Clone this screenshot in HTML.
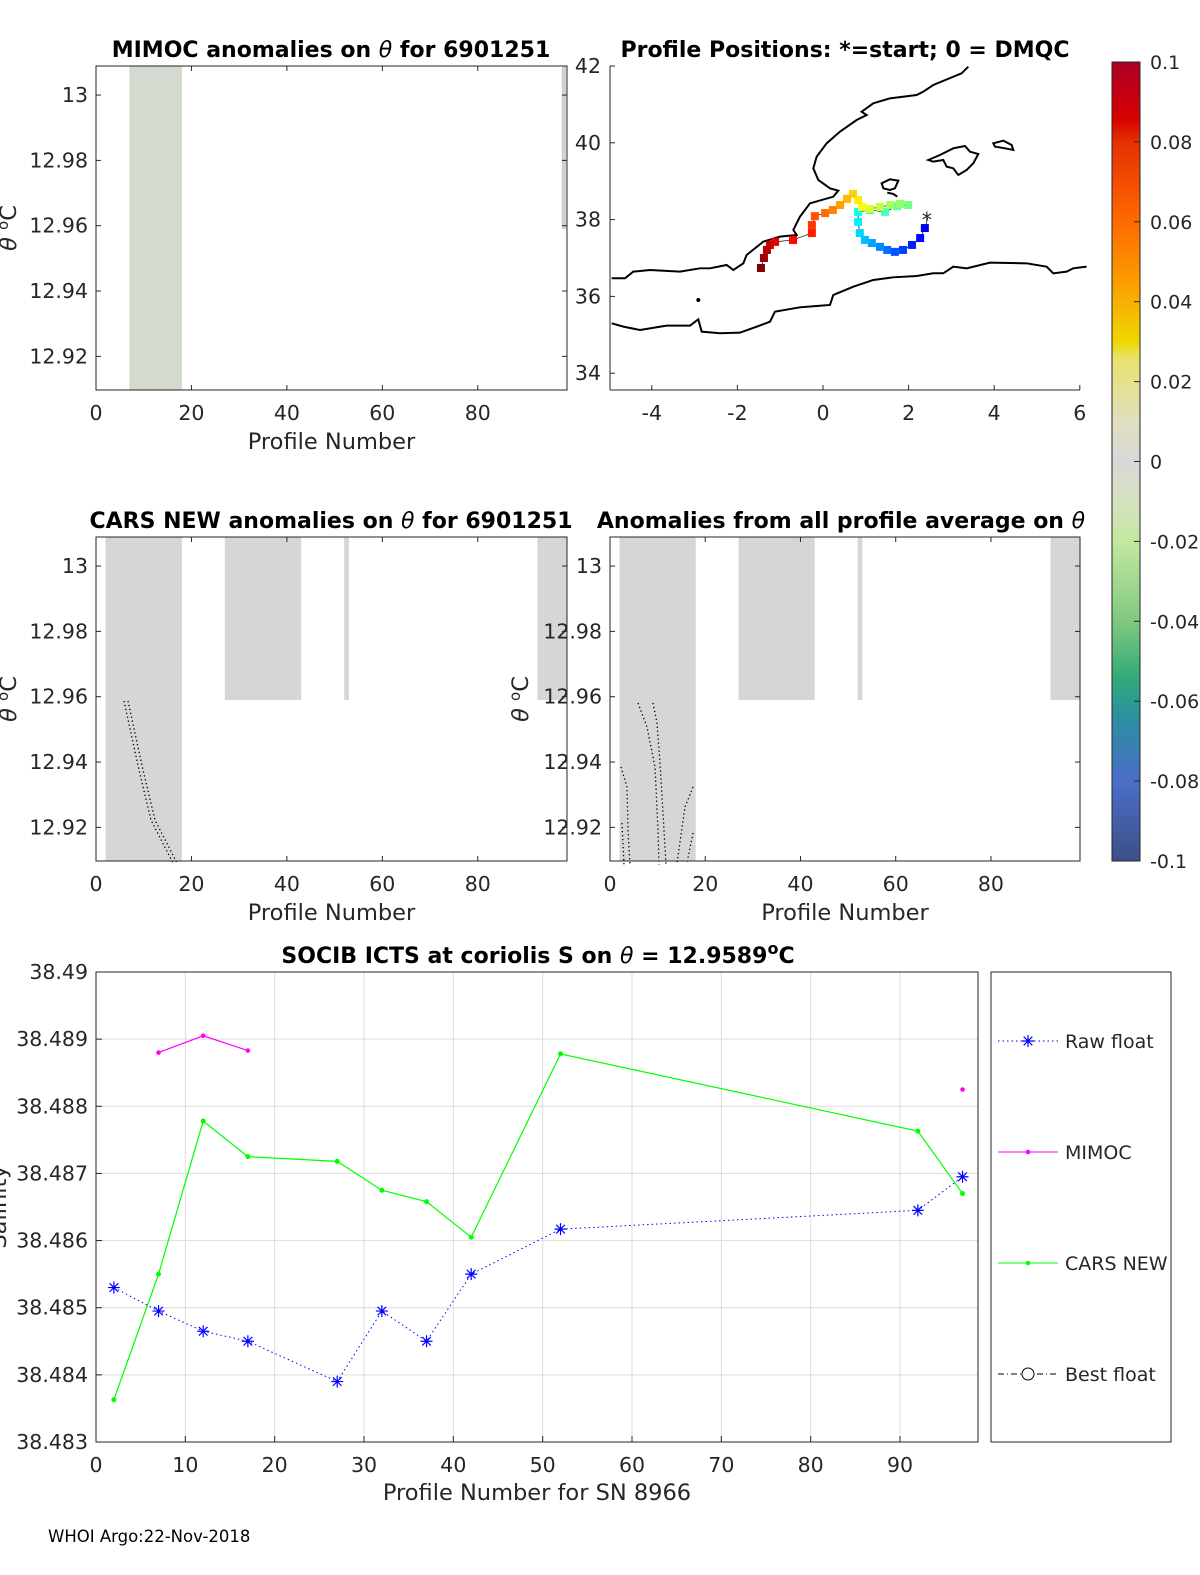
<!DOCTYPE html>
<html><head><meta charset="utf-8"><style>
html,body{margin:0;padding:0;background:#fff;}
svg{display:block;font-family:"DejaVu Sans","Liberation Sans",sans-serif;}
.t{font-weight:bold;font-size:22px;fill:#000;text-anchor:middle;}
.tk{font-size:20.5px;fill:#262626;}
.lg{font-size:19px;fill:#262626;}
.al{font-size:22.5px;fill:#262626;text-anchor:middle;}
</style></head><body>
<svg id="fig" width="1200" height="1575" viewBox="0 0 1200 1575" xmlns="http://www.w3.org/2000/svg"></svg>
<script>
// ---- bottom chart data ----
const profiles = [2,7,12,17,27,32,37,42,52,92,97];
const rawFloat = [38.4853,38.48495,38.48465,38.4845,38.4839,38.48495,38.4845,38.4855,38.48617,38.48645,38.48695];
const carsNew = [38.48363,38.4855,38.48778,38.48725,38.48718,38.48675,38.48658,38.48605,38.48878,38.48763,38.4867];
const mimocProfiles = [7,12,17];
const mimocVals = [38.4888,38.48905,38.48883];
const mimocExtraProfile = [97];
const mimocExtraVal = [38.48825];
const bottomXTicks = [0,10,20,30,40,50,60,70,80,90];
const bottomYTicks = [38.483,38.484,38.485,38.486,38.487,38.488,38.489,38.49];
// ---- anomaly panel data ----
const thetaTicks = [12.92,12.94,12.96,12.98,13];
const profTicks = [0,20,40,60,80];
// ---- map data ----
const trackLon = [2.45,2.38,2.27,2.08,1.87,1.68,1.50,1.33,1.14,0.98,0.86,0.82,0.82,1.10,1.45,1.73,1.99,1.80,1.57,1.33,1.10,0.91,0.82,0.70,0.56,0.40,0.23,0.05,-0.19,-0.26,-0.26,-0.70,-1.12,-1.24,-1.31,-1.38,-1.45];
const trackLat = [38.04,37.78,37.52,37.34,37.21,37.16,37.21,37.29,37.39,37.47,37.65,37.94,38.20,38.25,38.20,38.35,38.38,38.41,38.38,38.33,38.28,38.33,38.51,38.67,38.54,38.38,38.25,38.17,38.09,37.86,37.65,37.47,37.42,37.34,37.21,37.00,36.74];
const lonTicks = [-4,-2,0,2,4,6];
const latTicks = [34,36,38,40,42];
const cbTicks = [-0.1,-0.08,-0.06,-0.04,-0.02,0,0.02,0.04,0.06,0.08,0.1];
const cbLabels = ['-0.1','-0.08','-0.06','-0.04','-0.02','0','0.02','0.04','0.06','0.08','0.1'];

const svg = document.getElementById('fig');
const NS = 'http://www.w3.org/2000/svg';
function mk(tag, attrs, parent){const e=document.createElementNS(NS,tag);for(const k in attrs)e.setAttribute(k,attrs[k]);(parent||svg).appendChild(e);return e;}
function txt(s,x,y,cls,parent,anchor){const e=mk('text',{x:x,y:y,class:cls},parent);if(anchor)e.setAttribute('text-anchor',anchor);e.textContent=s;return e;}

function panel(name,x0,x1,y0,y1,title,patches,dots,ylab){
  const g=mk('g',{});
  
  
  const sx=v=>x0+(v-0)*(x1-x0)/98.7;
  const sy=v=>y1-(v-12.9097)*(y1-y0)/(13.0089-12.9097);
  patches.forEach(p=>{
    const h=(p[2]>=13.0)?(y1-y0):(sy(p[2])-y0);
    const r=mk('rect',{x:sx(p[0]),y:y0,width:sx(p[1])-sx(p[0]),height:h,fill:p[3]||'#d6d6d6'},g);
    
    
  });
  dots.forEach(d=>{const pl=mk('polyline',{points:d,fill:'none',stroke:'#000','stroke-width':1.3,'stroke-dasharray':'1.3 2.7'},g);
    
    });
  mk('rect',{x:x0,y:y0,width:x1-x0,height:y1-y0,fill:'none',stroke:'#262626','stroke-width':1},g);
  thetaTicks.forEach(t=>{const y=sy(t);mk('line',{x1:x0,x2:x0+5,y1:y,y2:y,stroke:'#262626'},g);mk('line',{x1:x1,x2:x1-5,y1:y,y2:y,stroke:'#262626'},g);
    txt(t===13?'13':t.toFixed(2),x0-8,y+7,'tk',g,'end');});
  profTicks.forEach(t=>{const x=sx(t);mk('line',{x1:x,x2:x,y1:y1,y2:y1-5,stroke:'#262626'},g);mk('line',{x1:x,x2:x,y1:y0,y2:y0+5,stroke:'#262626'},g);
    txt(String(t),x,y1+30,'tk',g,'middle');});
  txt('Profile Number',(x0+x1)/2,y1+59,'al',g);
  const yl=txt('',0,0,'al',g);yl.innerHTML='<tspan font-style="italic">θ</tspan> <tspan dy="-8" font-size="15">o</tspan><tspan dy="8">C</tspan>';
  yl.setAttribute('transform','translate('+ylab+','+((y0+y1)/2)+') rotate(-90)');
  txt('',title[1],y0-9,'t',g).innerHTML=title[0];
}
panel('mimoc-anomaly-panel',96,567,66,390,['MIMOC anomalies on <tspan font-style="italic" font-weight="normal">θ</tspan>  for 6901251',331],
  [[7,18,13.0089,'#d3dbd0'],[97.6,98.5,12.959,'#d0d0d0']],[],16);
panel('cars-anomaly-panel',96,567,537,861,['CARS NEW anomalies on <tspan font-style="italic" font-weight="normal">θ</tspan> for 6901251',331],
  [[2,18,13.0089],[27,43,12.959],[52,53,12.959],[92.5,98.7,12.959]],
  ['124,701 139,770 151,820 173,863','128,701 143,770 155,820 177,863'],16);
panel('all-profile-anomaly-panel',610,1080,537,861,['Anomalies from all profile average on <tspan font-style="italic" font-weight="normal">θ</tspan>',841],
  [[2,18,13.0089],[27,43,12.959],[52,53,12.959],[92.5,98.7,12.959]],
  ['638,703 647,727 655,767 658,830 659,865','653,703 657,723 660,763 663,813 666,865','621,767 627,787 628,830 630,865','622,823 624,865','693,787 685,807 677,863','693,833 687,863'],528);

// ---- map ----
(function(){
  const g=mk('g',{});
  
  
  const x0=610,x1=1080,y0=66,y1=390;
  const sx=v=>609+(v+5)*42.8;
  const sy=v=>66+(42-v)*38.4;
  const c=mk('g',{transform:'translate(600,60) scale(0.3333)',fill:'none',stroke:'#000','stroke-width':6},g);
  
  
  mk('polyline',{points:'1105,20 1085,40 1000,75 970,95 950,105 870,115 820,130 785,155 800,165 770,180 720,215 680,250 650,290 640,325 655,360 690,385 715,392 700,410 630,430 600,470 580,510 590,525 540,530 490,545 440,585 430,610 400,630 380,615 330,625 300,625 240,635 150,630 100,635 75,655 35,655'},c);
  mk('polyline',{points:'35,790 70,800 120,810 200,797 270,797 295,778 305,815 360,820 420,818 470,800 510,785 525,755 600,742 650,738 690,735 700,705 760,680 820,660 880,652 950,648 1000,640 1030,640 1060,620 1100,625 1170,608 1280,610 1340,620 1360,640 1400,635 1420,625 1460,620'},c);
  mk('polygon',{points:'985,300 1020,285 1060,265 1095,258 1110,275 1135,282 1120,310 1100,330 1075,345 1060,325 1040,320 1030,300 1000,305'},c);
  mk('polygon',{points:'1180,250 1210,242 1235,255 1240,270 1215,265 1185,260'},c);
  mk('polygon',{points:'845,370 870,358 895,362 885,385 870,390 850,385'},c);
  mk('polyline',{points:'862,398 880,402 892,410'},c);
  mk('circle',{cx:295,cy:720,r:3,fill:'#000'},c);
  mk('polyline',{points:trackLon.map((v,i)=>sx(v)+','+sy(trackLat[i])).join(' '),fill:'none',stroke:'#000','stroke-width':0.7},g);
  const n=trackLon.length;
  function jet(t){t=0.08+0.92*t;const r=Math.min(1,Math.max(0,1.5-Math.abs(4*t-3))),gg=Math.min(1,Math.max(0,1.5-Math.abs(4*t-2))),b=Math.min(1,Math.max(0,1.5-Math.abs(4*t-1)));return 'rgb('+Math.round(r*255)+','+Math.round(gg*255)+','+Math.round(b*255)+')';}
  trackLon.forEach((v,i)=>{if(i===0)return;const r=mk('rect',{x:sx(v)-4,y:sy(trackLat[i])-4,width:8,height:8,fill:jet(i/(n-1))},g);
    
    });
  txt('*',sx(trackLon[0])-1,sy(trackLat[0])+9,'tk',g,'middle').setAttribute('fill','#00008f');
  mk('line',{x1:x0,x2:x0,y1:y0,y2:y1,stroke:'#262626'},g);
  mk('line',{x1:x0,x2:x1,y1:y1,y2:y1,stroke:'#262626'},g);
  lonTicks.forEach(t=>{const x=sx(t);mk('line',{x1:x,x2:x,y1:y1,y2:y1-5,stroke:'#262626'},g);txt(String(t),x,y1+30,'tk',g,'middle');});
  latTicks.forEach(t=>{const y=sy(t);mk('line',{x1:x0,x2:x0+5,y1:y,y2:y,stroke:'#262626'},g);txt(String(t),x0-9,y+7,'tk',g,'end');});
  txt('Profile Positions: *=start; 0 = DMQC',845,57,'t',g);
})();

// ---- colorbar ----
(function(){
  const g=mk('g',{});
  
  
  const defs=mk('defs',{},g);
  const lg=mk('linearGradient',{id:'cbg',x1:0,y1:0,x2:0,y2:1},defs);
  [[0,'#ab0025'],[0.07,'#d60000'],[0.1,'#e63000'],[0.2,'#ff6a00'],[0.28,'#fba000'],[0.35,'#eed800'],[0.37,'#e8e26a'],[0.45,'#e0dfc0'],[0.5,'#d8d8d8'],[0.55,'#d6e2c0'],[0.6,'#c4e8a0'],[0.7,'#80c880'],[0.77,'#34aa78'],[0.82,'#2a90a0'],[0.9,'#4a6ec8'],[1,'#3c5088']].forEach(s=>mk('stop',{offset:s[0],'stop-color':s[1]},lg));
  const y0=62,y1=861;
  mk('rect',{x:1112,y:y0,width:28,height:y1-y0,fill:'url(#cbg)',stroke:'#262626'},g);
  cbTicks.forEach((t,i)=>{const y=y1-(t+0.1)/0.2*(y1-y0);
    if(i>0&&i<cbTicks.length-1)mk('line',{x1:1134,x2:1140,y1:y,y2:y,stroke:'#262626'},g);
    txt(cbLabels[i],1150,y+7,'lg',g,'start');});
})();

// ---- bottom chart ----
(function(){
  const g=mk('g',{});
  
  
  const x0=96,x1=978,y0=972,y1=1442;
  const sx=v=>x0+v*(900-96)/90;
  const sy=v=>y1-(v-38.483)*(y1-y0)/0.007;
  bottomXTicks.forEach(t=>{if(t>0)mk('line',{x1:sx(t),x2:sx(t),y1:y0,y2:y1,stroke:'#dcdcdc'},g);});
  bottomYTicks.forEach(t=>{mk('line',{x1:x0,x2:x1,y1:sy(t),y2:sy(t),stroke:'#dcdcdc'},g);});
  const cars=mk('polyline',{points:profiles.map((p,i)=>sx(p)+','+sy(carsNew[i])).join(' '),fill:'none',stroke:'#00ff00','stroke-width':1.2},g);
  
  
  profiles.forEach((p,i)=>mk('circle',{cx:sx(p),cy:sy(carsNew[i]),r:2.5,fill:'#00ff00'},g));
  const mim=mk('polyline',{points:mimocProfiles.map((p,i)=>sx(p)+','+sy(mimocVals[i])).join(' '),fill:'none',stroke:'#ff00ff','stroke-width':1.2},g);
  
  
  mimocProfiles.forEach((p,i)=>mk('circle',{cx:sx(p),cy:sy(mimocVals[i]),r:2.3,fill:'#ff00ff'},g));
  mimocExtraProfile.forEach((p,i)=>mk('circle',{cx:sx(p),cy:sy(mimocExtraVal[i]),r:2.3,fill:'#ff00ff'},g));
  const raw=mk('polyline',{points:profiles.map((p,i)=>sx(p)+','+sy(rawFloat[i])).join(' '),fill:'none',stroke:'#0000ff','stroke-width':1,'stroke-dasharray':'1.5 3'},g);
  
  
  function star(x,y,c){const s=6;mk('path',{d:`M${x-s},${y}H${x+s}M${x},${y-s}V${y+s}M${x-4.3},${y-4.3}L${x+4.3},${y+4.3}M${x-4.3},${y+4.3}L${x+4.3},${y-4.3}`,stroke:c,'stroke-width':1.2,fill:'none'},g);}
  profiles.forEach((p,i)=>star(sx(p),sy(rawFloat[i]),'#0000ff'));
  mk('rect',{x:x0,y:y0,width:x1-x0,height:y1-y0,fill:'none',stroke:'#262626'},g);
  bottomXTicks.forEach(t=>{const x=sx(t);mk('line',{x1:x,x2:x,y1:y1,y2:y1-6,stroke:'#262626'},g);txt(String(t),x,y1+30,'tk',g,'middle');});
  bottomYTicks.forEach(t=>{const y=sy(t);mk('line',{x1:x0,x2:x0+6,y1:y,y2:y,stroke:'#262626'},g);txt(t.toFixed(3).replace(/0$/,''),x0-8,y+7,'tk',g,'end');});
  txt('Profile Number for SN 8966',(x0+x1)/2,y1+58,'al',g);
  const yl=txt('Salinity',0,0,'al',g);yl.setAttribute('transform','translate(6,1207) rotate(-90)');
  const tt=txt('',538,963,'t',g);tt.innerHTML='SOCIB ICTS at coriolis S on <tspan font-style="italic" font-weight="normal">θ</tspan> = 12.9589<tspan dy="-9" font-size="16">o</tspan><tspan dy="9">C</tspan>';
  const lgd=mk('g',{},svg);
  
  
  mk('rect',{x:991,y:972,width:180,height:470,fill:'#fff',stroke:'#262626'},lgd);
  const ents=[['Raw float',1041,'#0000ff','1.5 3','star'],['MIMOC',1152,'#ff00ff','','dot'],['CARS NEW',1263,'#00ff00','','dot'],['Best float',1374,'#000','6 3 1 3','circ']];
  ents.forEach(e=>{const eg=mk('g',{},lgd);
    
    
    mk('line',{x1:998,x2:1058,y1:e[1],y2:e[1],stroke:e[2],'stroke-width':1,'stroke-dasharray':e[3]},eg);
    if(e[4]==='dot')mk('circle',{cx:1028,cy:e[1],r:2.3,fill:e[2]},eg);
    if(e[4]==='circ')mk('circle',{cx:1028,cy:e[1],r:6,fill:'#fff',stroke:'#000'},eg);
    if(e[4]==='star'){const x=1028,y=e[1];mk('path',{d:`M${x-6},${y}H${x+6}M${x},${y-6}V${y+6}M${x-4.3},${y-4.3}L${x+4.3},${y+4.3}M${x-4.3},${y+4.3}L${x+4.3},${y-4.3}`,stroke:'#0000ff','stroke-width':1.2},eg);}
    txt(e[0],1065,e[1]+7,'lg',eg,'start');});
})();
const ft=txt('WHOI Argo:22-Nov-2018',48,1542,'',svg,'start');
ft.setAttribute('style','font-size:16.5px;fill:#000');


</script>
</body></html>
